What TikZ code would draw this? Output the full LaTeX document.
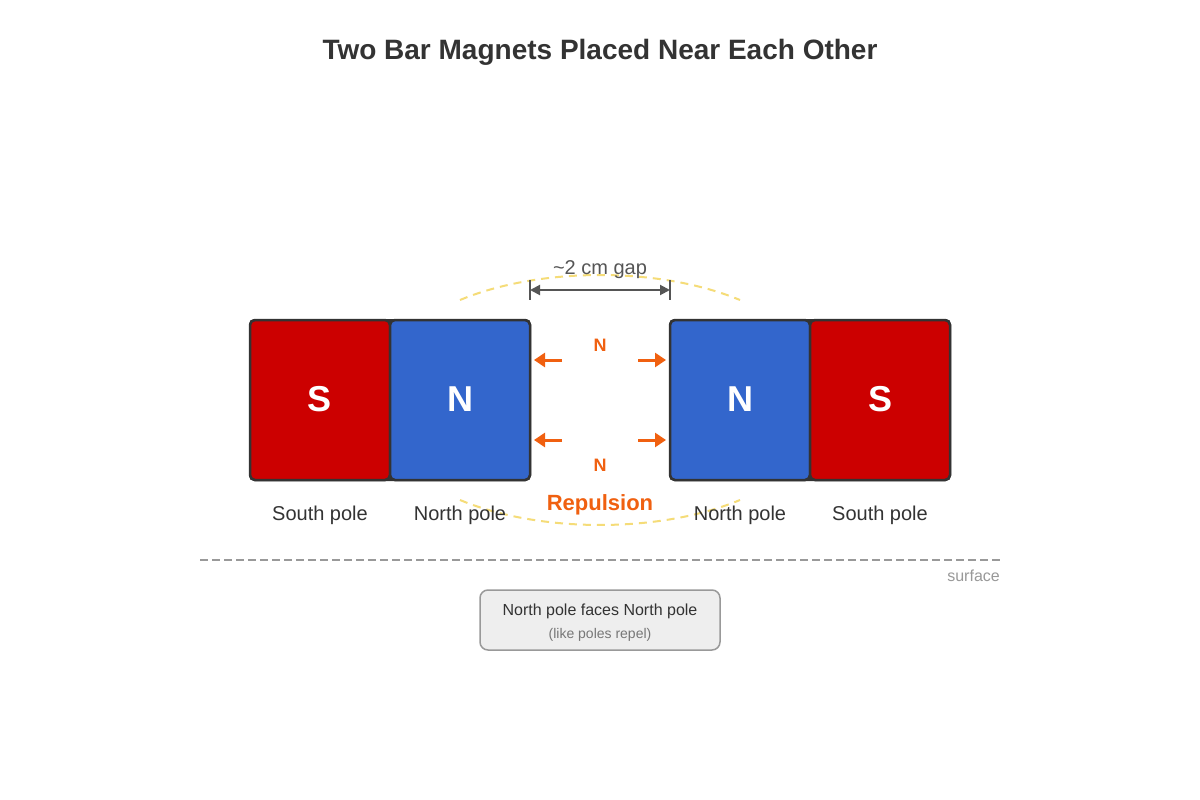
\documentclass[tikz,border=0pt]{standalone}
\usepackage{fontspec}
\setmainfont{Liberation Sans}
\usetikzlibrary{arrows.meta}
\definecolor{ink}{HTML}{333333}
\definecolor{sred}{HTML}{CC0000}
\definecolor{nblue}{HTML}{3366CC}
\definecolor{orng}{HTML}{F06010}
\definecolor{gapc}{HTML}{555555}
\definecolor{fieldy}{HTML}{F5DC78}
\definecolor{grayline}{HTML}{999999}
\definecolor{boxfill}{HTML}{EEEEEE}
\tikzset{
  px/.style={x=1pt,y=-1pt},
  magbody/.style={fill=ink, rounded corners=5pt},
  spole/.style={draw=ink, line width=2.5pt, fill=sred, rounded corners=5pt},
  npole/.style={draw=ink, line width=2.5pt, fill=nblue, rounded corners=5pt},
  poletext/.style={text=white, font=\bfseries\fontsize{36}{40}\selectfont},
  caption/.style={text=ink, font=\fontsize{20}{24}\selectfont},
  forcearrow/.style={draw=orng, line width=3pt, -{Triangle[length=11pt,width=14pt]}},
  smallN/.style={text=orng, font=\bfseries\fontsize{18}{20}\selectfont},
  fieldarc/.style={draw=fieldy, line width=2pt, dash pattern=on 8pt off 6pt},
  gaparrow/.style={draw=gapc, line width=2pt, {Triangle[length=10pt,width=10pt]}-{Triangle[length=10pt,width=10pt]}},
}
\begin{document}
\begin{tikzpicture}[px]
\useasboundingbox (0,0) rectangle (1200,800);
\fill[white] (0,0) rectangle (1200,800);

% title
\node[text=ink, font=\bfseries\fontsize{28}{32}\selectfont] (title) at (600,52) {Two Bar Magnets Placed Near Each Other};

% field arcs
\draw[fieldarc] (460,300) .. controls (540,266.7) and (660,266.7) .. (740,300);
\draw[fieldarc] (460,500) .. controls (540,533.3) and (660,533.3) .. (740,500);

% left magnet
\fill[magbody] (249,319) rectangle (531,481);
\draw[spole] (250,320) rectangle (390,480);
\draw[npole] (390,320) rectangle (530,480);
\node[poletext] (lS) at (320,399) {S};
\node[poletext] (lN) at (460,399) {N};

% right magnet
\fill[magbody] (669,319) rectangle (951,481);
\draw[npole] (670,320) rectangle (810,480);
\draw[spole] (810,320) rectangle (950,480);
\node[poletext] (rN) at (740,399) {N};
\node[poletext] (rS) at (880,399) {S};

% gap dimension
\coordinate (gL) at (530,290);
\coordinate (gR) at (670,290);
\draw[gapc, line width=2pt] (530,280) -- (530,300);
\draw[gapc, line width=2pt] (670,280) -- (670,300);
\draw[gaparrow] (gL) -- (gR);
\node[text=gapc, font=\fontsize{20}{24}\selectfont] (gaplbl) at (600,270) {\char`~2 cm gap};

% repulsion arrows
\coordinate (a1s) at (562,360); \coordinate (a1e) at (534,360);
\coordinate (a2s) at (638,360); \coordinate (a2e) at (666,360);
\coordinate (a3s) at (562,440); \coordinate (a3e) at (534,440);
\coordinate (a4s) at (638,440); \coordinate (a4e) at (666,440);
\draw[forcearrow] (a1s) -- (a1e);
\draw[forcearrow] (a2s) -- (a2e);
\draw[forcearrow] (a3s) -- (a3e);
\draw[forcearrow] (a4s) -- (a4e);
\node[smallN] (n1) at (600,345) {N};
\node[smallN] (n2) at (600,465) {N};
\node[text=orng, font=\bfseries\fontsize{22}{26}\selectfont] (rep) at (600,505) {Repulsion};

% pole captions
\node[caption] (c1) at (320,515) {South pole};
\node[caption] (c2) at (460,515) {North pole};
\node[caption] (c3) at (740,515) {North pole};
\node[caption] (c4) at (880,515) {South pole};

% surface
\coordinate (sL) at (200,560);
\coordinate (sR) at (1000,560);
\draw[grayline, line width=2pt, dash pattern=on 8pt off 4pt] (sL) -- (sR);
\node[text=grayline, font=\fontsize{16}{20}\selectfont, anchor=east, inner sep=0pt] (surf) at (1000,576) {surface};

% note box
\draw[draw=grayline, fill=boxfill, line width=1.5pt, rounded corners=8pt] (480,590) rectangle (720,650);
\node[text=ink, font=\fontsize{16}{20}\selectfont] (note1) at (600,611) {North pole faces North pole};
\node[text=gapc!80!white, font=\fontsize{14}{18}\selectfont] (note2) at (600,635) {(like poles repel)};
\end{tikzpicture}
\end{document}
